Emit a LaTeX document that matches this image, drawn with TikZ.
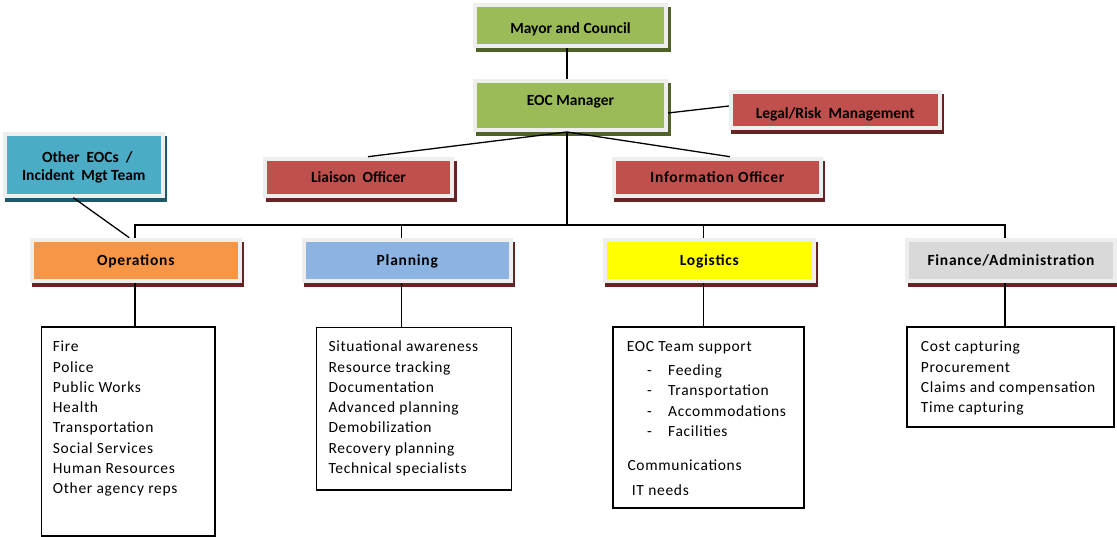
\documentclass[tikz,border=0pt]{standalone}
\usepackage{fontspec}
\setmainfont{Carlito}
\newfontfamily\listfont[LetterSpace=4.5]{Carlito}
\newfontfamily\widebold[LetterSpace=5]{Carlito}
\usetikzlibrary{calc}

\definecolor{framegray}{HTML}{EEEEEE}
\definecolor{ofgreen}{HTML}{9BBB59}
\definecolor{ofgreendk}{HTML}{4F6228}
\definecolor{ofred}{HTML}{C0504D}
\definecolor{ofreddk}{HTML}{632423}
\definecolor{ofteal}{HTML}{4BACC6}
\definecolor{oftealdk}{HTML}{205867}
\definecolor{oforange}{HTML}{F79646}
\definecolor{ofblue}{HTML}{8DB3E2}
\definecolor{ofyellow}{HTML}{FFFF00}
\definecolor{ofgray}{HTML}{D9D9D9}

\tikzset{
  hdr/.style 2 args={draw=framegray, line width=4pt, fill=#1, inner sep=0pt,
    font=\bfseries\fontsize{15.5}{18}\selectfont, text height=10pt, text depth=0pt,
    preaction={draw=#2, fill=#2, line width=4pt,
      transform canvas={shift={(2.5pt,-4pt)}}}},
  wide/.style={font=\widebold\bfseries\fontsize{15.5}{18}\selectfont},
  listbox/.style={draw=black, line width=1.3pt, fill=white, inner sep=0pt},
  % anchored at the baseline of the last line
  listtext/.style={anchor=base west, inner sep=0pt, align=left,
    font=\listfont\fontsize{15.5}{20.3}\selectfont},
  conn/.style={draw=black, line width=1.3pt},
}

\begin{document}
\begin{tikzpicture}[x=1pt, y=-1pt]
\useasboundingbox (0,0) rectangle (1117,537);
\fill[white] (0,0) rectangle (1117,537);

% branch points of the connectors
\coordinate (hub) at (567,0);
\coordinate (busW) at (135,225);
\coordinate (busE) at (1005,225);
\coordinate (dropP) at (401.7,225);
\coordinate (dropL) at (703.3,225);

% command staff
\node[hdr={ofgreen}{ofgreendk}, text height=17pt, minimum width=191, minimum height=41] (mayor) at (570.5,25.5) {Mayor and Council};
\node[hdr={ofgreen}{ofgreendk}, text depth=9pt, minimum width=191, minimum height=49] (eoc) at (570.5,105.5) {EOC Manager};
\node[hdr={ofred}{ofreddk}, text height=17pt, minimum width=208.7, minimum height=36] (legal) at (835.3,110) {Legal/Risk\ \ Management};
\node[hdr={ofteal}{oftealdk}, minimum width=158.3, minimum height=62, text height=, text depth=, align=center] (other) at (83.8,164.7) {\rule{0pt}{17pt}\ \ Other\ \ EOCs\ \ /\\Incident\ \ Mgt Team};
\node[hdr={ofred}{ofreddk}, minimum width=187, minimum height=37] (liaison) at (358.5,177.2) {Liaison\ \ Officer};
\node[hdr={ofred}{ofreddk}, wide, minimum width=207.3, minimum height=37] (info) at (717.3,177.2) {Information Officer};

% sections
\node[hdr={oforange}{ofreddk}, wide, minimum width=207.7, minimum height=41] (ops) at (135.8,260.2) {Operations};
\node[hdr={ofblue}{ofreddk}, wide, minimum width=207.3, minimum height=41] (plan) at (407.3,260.2) {Planning};
\node[hdr={ofyellow}{ofreddk}, wide, minimum width=209.3, minimum height=41] (logi) at (709.3,260.2) {Logistics};
\node[hdr={ofgray}{ofreddk}, wide, minimum width=208, minimum height=41] (fin) at (1011,260.2) {Finance/Administration};

% task lists
\node[listbox, minimum width=173.3, minimum height=209] (opslist) at (128.4,431.5) {};
\node[listbox, minimum width=195, minimum height=162.3] (planlist) at (414.2,408.9) {};
\node[listbox, minimum width=191, minimum height=181] (logilist) at (708.5,417.5) {};
\node[listbox, minimum width=207, minimum height=100] (finlist) at (1010.5,377) {};

\node[listtext] (opstext) at (52.7,493.8) {Fire\\Police\\Public Works\\Health\\Transportation\\Social Services\\Human Resources\\Other agency reps};
\node[listtext] (plantext) at (328.3,473.5) {Situational awareness\\Resource tracking\\Documentation\\Advanced planning\\Demobilization\\Recovery planning\\Technical specialists};
\node[listtext] (logitext) at (626.7,351.7) {EOC Team support};
\node[listtext, font=\listfont\fontsize{15.5}{20.6}\selectfont] (logisub) at (647,436.8) {\makebox[21pt][l]{-}Feeding\\\makebox[21pt][l]{-}Transportation\\\makebox[21pt][l]{-}Accommodations\\\makebox[21pt][l]{-}Facilities};
\node[listtext] (logicomm) at (627.3,470) {Communications};
\node[listtext] (logiit) at (631.7,495) {IT needs};
\node[listtext] (fintext) at (920.7,412.6) {Cost capturing\\Procurement\\Claims and compensation\\Time capturing};

% connectors
\draw[conn] (mayor.south -| hub) -- (eoc.north -| hub);
\draw[conn] ([yshift=-7.5pt]eoc.east) -- ([yshift=4pt]legal.west);
\draw[conn] (eoc.south -| hub) -- ([xshift=9.5pt]liaison.north);
\draw[conn] (eoc.south -| hub) -- ([xshift=12.7pt]info.north);
\draw[conn] (eoc.south -| hub) -- (hub |- busW);
\draw[conn] (ops.north -| busW) -- (busW) -- (busE) -- (fin.north -| busE);
\draw[conn] (dropP) -- (plan.north -| dropP);
\draw[conn] (dropL) -- (logi.north -| dropL);
\draw[conn] ([xshift=-10.5pt]other.south) -- ([xshift=-6.5pt]ops.north);
\draw[conn] (ops.south -| busW) -- (opslist.north -| busW);
\draw[conn] (plan.south -| dropP) -- (planlist.north -| dropP);
\draw[conn] (logi.south -| dropL) -- (logilist.north -| dropL);
\draw[conn] (fin.south -| busE) -- (finlist.north -| busE);
\end{tikzpicture}
\end{document}
